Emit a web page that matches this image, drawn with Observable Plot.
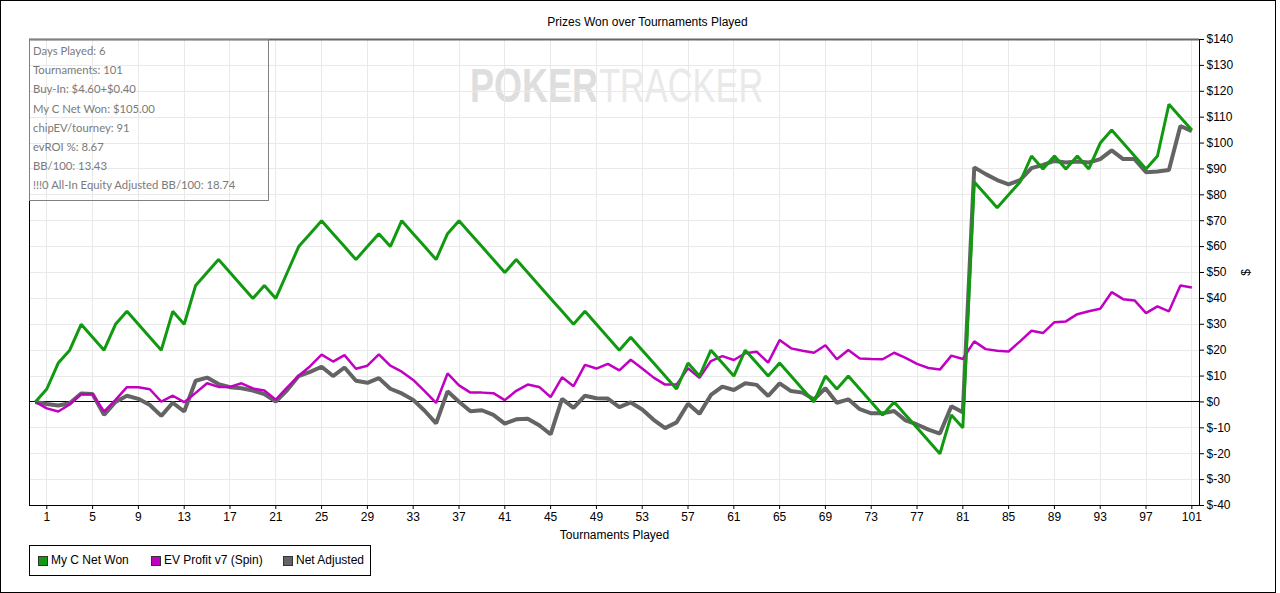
<!DOCTYPE html>
<html><head><meta charset="utf-8">
<script src="https://cdn.jsdelivr.net/npm/d3@7"></script>
<script src="https://cdn.jsdelivr.net/npm/@observablehq/plot@0.6"></script>
<style>
html,body{margin:0;padding:0;background:#fff;}
#wrap{position:relative;width:1280px;height:593px;overflow:hidden;font-family:"Liberation Sans",Arial,sans-serif;}
#border{position:absolute;left:0;top:0;width:1276px;height:593px;border:1px solid #000;box-sizing:border-box;z-index:5;pointer-events:none;}
#title{position:absolute;top:15px;left:0;width:1295px;text-align:center;font-size:12px;line-height:14px;color:#000;}
.wm{position:absolute;top:62px;font-size:48px;line-height:48px;transform-origin:0 0;white-space:nowrap;}
#wm1{left:470px;font-weight:bold;color:#dedede;transform:scaleX(0.75);}
#wm2{left:599px;color:#e9e9e9;transform:scaleX(0.716);}
#chart{position:absolute;left:0;top:0;z-index:1;}
#info{position:absolute;left:29px;top:39px;width:240px;height:162px;border:1px solid #808080;box-sizing:border-box;z-index:2;font-family:Lato,"Open Sans",sans-serif;font-size:11.3px;line-height:19.2px;color:#7a7a7a;padding-left:3px;padding-top:1px;}
#legend{position:absolute;left:29px;top:545px;width:342px;height:31px;border:1px solid #000;box-sizing:border-box;z-index:2;font-size:12px;color:#000;}
.li{position:absolute;top:0;height:29px;line-height:29px;white-space:nowrap;}
.sw{position:absolute;top:10px;width:8px;height:8px;border:1px solid #333;box-sizing:content-box;}
</style>
</head><body>
<div id="wrap">
  <div id="title"></div>
  <div class="wm" id="wm1">POKER</div>
  <div class="wm" id="wm2">TRACKER</div>
  <div id="chart"></div>
  <div id="info"></div>
  <div id="legend"></div>
  <div id="border"></div>
</div>
<script>
const chartTitle = "Prizes Won over Tournaments Played";
const tournaments = d3.range(0, 102);
const netWon = [0,5,15,20,30,25,20,30,35,30,25,20,35,30,45,50,55,50,45,40,45,40,50,60,65,70,65,60,55,60,65,60,70,65,60,55,65,70,65,60,55,50,55,50,45,40,35,30,35,30,25,20,25,20,15,10,5,15,10,20,15,10,20,15,10,15,10,5,0,10,5,10,5,0,-5,0,-5,-10,-15,-20,-5,-10,85,80,75,80,85,95,90,95,90,95,90,100,105,100,95,90,95,115,110,105];
const evProfit = [0,-2.5,-3.7,-1,3,3,-3.7,0.8,5.7,5.7,4.9,0.1,2.4,-0.1,3.5,7.2,5.8,5.8,7.2,5.2,4.4,0.9,5.6,10.1,13.8,18.3,15.6,18.1,12.8,14,18.4,14,11.7,8.5,4.2,-0.4,11,6.4,3.6,3.6,3.4,0.7,4.3,6.7,5.8,1.9,9.5,6.1,14.3,12.9,14.7,12.2,16.3,12.9,9.4,6.7,6.7,13,9.3,15.8,17.7,16.2,18.8,19.4,15.2,23.9,20.7,19.8,19,21.9,16.5,20.1,16.8,16.6,16.5,19,17,14.7,13.1,12.5,17.9,16.6,23.4,20.4,19.8,19.5,23.4,27.5,26.6,30.8,31.1,33.9,35,36,42.4,39.7,39.2,34.3,36.9,35,45,44.2];
const netAdjusted = [0,-0.8,-1.4,-0.5,3.3,3.1,-5,0,2.4,1.2,-1.2,-5.4,-0.3,-3.7,8.2,9.4,6.9,5.7,5.3,4.4,3,0.1,4.6,10,11.6,13.6,10,13.3,8.2,7.4,9.2,5.1,3.3,0.8,-3.4,-8.3,4.1,0.1,-3.6,-3.2,-5,-8.4,-6.7,-6.5,-9,-12.5,1.2,-2.3,2.4,1.4,1.3,-2,-0.2,-2.9,-6.9,-10.1,-7.9,-0.7,-4.6,2.7,5.9,4.6,7.2,6.6,2.3,7.2,4.2,3.6,1,5.3,-0.3,1,-2.8,-4.4,-4.4,-3.5,-7.1,-8.7,-10.7,-12.2,-1.7,-4,90.6,88,85.7,84,85.7,90.3,91.6,93.1,92.5,92.9,92.5,93.8,97.2,93.8,93.8,88.7,89,89.6,106.6,104.6];
const xTicks = [1,5,9,13,17,21,25,29,33,37,41,45,49,53,57,61,65,69,73,77,81,85,89,93,97,101];
const yTicks = [-40,-30,-20,-10,0,10,20,30,40,50,60,70,80,90,100,110,120,130,140];
const seriesNames = ["My C Net Won","EV Profit v7 (Spin)","Net Adjusted"];
const seriesColors = ["#129912","#c200c2","#646464"];
const infoLines = ["Days Played: 6","Tournaments: 101","Buy-In: $4.60+$0.40","My C Net Won: $105.00","chipEV/tourney: 91","evROI %: 8.67","BB/100: 13.43","!!!0 All-In Equity Adjusted BB/100: 18.74"];
const xLabel = "Tournaments Played";
const yLabel = "$";

document.getElementById("title").textContent = chartTitle;
document.getElementById("info").innerHTML = infoLines.map(t => `<div>${t.replace(/&/g,"&amp;")}</div>`).join("");

const chart = Plot.plot({
  width: 1280, height: 545,
  marginLeft: 29, marginRight: 81, marginTop: 39, marginBottom: 40,
  style: {fontFamily: "'Liberation Sans', Arial, sans-serif", fontSize: "12px", background: "transparent", color: "#000", overflow: "visible"},
  x: {domain: [-0.51, 101.67]},
  y: {domain: [-40, 140]},
  marks: [
    Plot.gridX(xTicks, {stroke: "#e9e9e9", strokeOpacity: 1, shapeRendering: "crispEdges"}),
    Plot.gridY(yTicks, {stroke: "#e9e9e9", strokeOpacity: 1, shapeRendering: "crispEdges"}),
    Plot.ruleY([0], {stroke: "#000", strokeWidth: 1, shapeRendering: "crispEdges"}),
    Plot.lineY(netAdjusted, {x: tournaments, stroke: seriesColors[2], strokeWidth: 4, strokeLinejoin: "miter", strokeLinecap: "butt"}),
    Plot.lineY(evProfit, {x: tournaments, stroke: seriesColors[1], strokeWidth: 2.5, strokeLinejoin: "miter", strokeLinecap: "butt"}),
    Plot.lineY(netWon, {x: tournaments, stroke: seriesColors[0], strokeWidth: 3, strokeLinejoin: "miter", strokeLinecap: "butt"}),
    Plot.frame({stroke: "#000", shapeRendering: "crispEdges"}),
    Plot.ruleY([yTicks[yTicks.length - 1]], {stroke: "#666", strokeWidth: 2}),
    Plot.axisX(xTicks, {tickSize: 4, tickPadding: 3, label: xLabel, labelAnchor: "center", labelArrow: "none", labelOffset: 33}),
    Plot.axisY(yTicks, {anchor: "right", tickSize: 4, tickPadding: 3, tickFormat: d => "$" + d, label: yLabel, labelAnchor: "center", labelArrow: "none", labelOffset: 50})
  ]
});
document.getElementById("chart").appendChild(chart);

const leg = document.getElementById("legend");
const swLeft = [8, 121, 253];
seriesNames.forEach((n, i) => {
  const item = document.createElement("div");
  item.className = "li";
  item.style.left = swLeft[i] + "px";
  item.innerHTML = `<span class="sw" style="left:0;background:${seriesColors[i]}"></span><span style="position:absolute;left:13px">${n}</span>`;
  leg.appendChild(item);
});
</script>
</body></html>
